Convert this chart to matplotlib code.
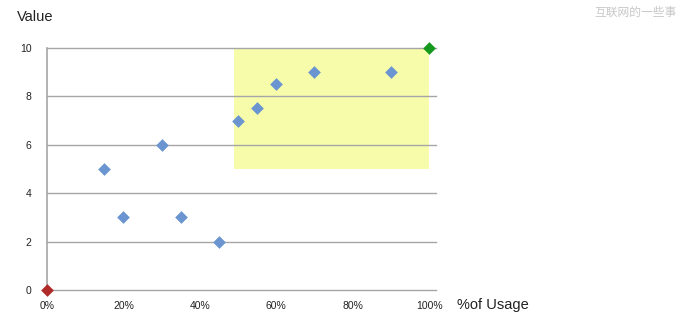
import matplotlib.pyplot as plt
import matplotlib.patches as mpatches

plt.rcParams['font.family'] = ['Liberation Sans', 'Noto Sans CJK SC', 'DejaVu Sans']

# data
usage = [0.15, 0.20, 0.30, 0.35, 0.45, 0.50, 0.55, 0.60, 0.70, 0.90]
value = [5, 3, 6, 3, 2, 7, 7.5, 8.5, 9, 9]
low_pt = (0.0, 0.0)
high_pt = (1.0, 10.0)
zone_x = (0.49, 1.0)
zone_y = (5, 10)
xticks = [0, 0.2, 0.4, 0.6, 0.8, 1.0]
xtick_labels = ['0%', '20%', '40%', '60%', '80%', '100%']
yticks = [0, 2, 4, 6, 8, 10]

fig = plt.figure(figsize=(6.82, 3.28), dpi=100)
ax = fig.add_axes([47/682, 38/328, 389/682, 242/328])

# highlighted zone
ax.add_patch(mpatches.Rectangle((zone_x[0], zone_y[0]), zone_x[1]-zone_x[0], zone_y[1]-zone_y[0],
                                facecolor='#F7FCAB', edgecolor='none', zorder=0))

for y in yticks:
    ax.axhline(y, color='#A6A6A6', lw=1.0, zorder=1, clip_on=False)

ax.scatter(usage, value, marker='D', s=42, color='#6A95D0', zorder=3, clip_on=False, linewidths=0)
ax.scatter([low_pt[0]], [low_pt[1]], marker='D', s=42, color='#B02A2A', zorder=4, clip_on=False, linewidths=0)
ax.scatter([high_pt[0]], [high_pt[1]], marker='D', s=42, color='#14991E', zorder=4, clip_on=False, linewidths=0)

ax.set_xlim(0, 1.018)
ax.set_ylim(0, 10)
ax.set_xticks(xticks)
ax.set_xticklabels(xtick_labels)
ax.set_yticks(yticks)
ax.tick_params(length=0, labelsize=7.5, colors='#222222')
ax.tick_params(axis='x', pad=8)
ax.tick_params(axis='y', pad=11)

for s in ['top', 'right', 'bottom']:
    ax.spines[s].set_visible(False)
ax.spines['left'].set_color('#A6A6A6')
ax.spines['left'].set_linewidth(1.2)

fig.text(17/682, 1 - 17/328, 'Value', fontsize=10.5, va='center', ha='left', color='#222222')
fig.text(457/682, 1 - 305/328, '%of Usage', fontsize=10.5, va='center', ha='left', color='#222222')
fig.text(677/682, 1 - 13/328, '互联网的一些事', fontsize=8.5, va='center', ha='right', color='#C8C8C8')

fig.savefig('out.png', dpi=100)
